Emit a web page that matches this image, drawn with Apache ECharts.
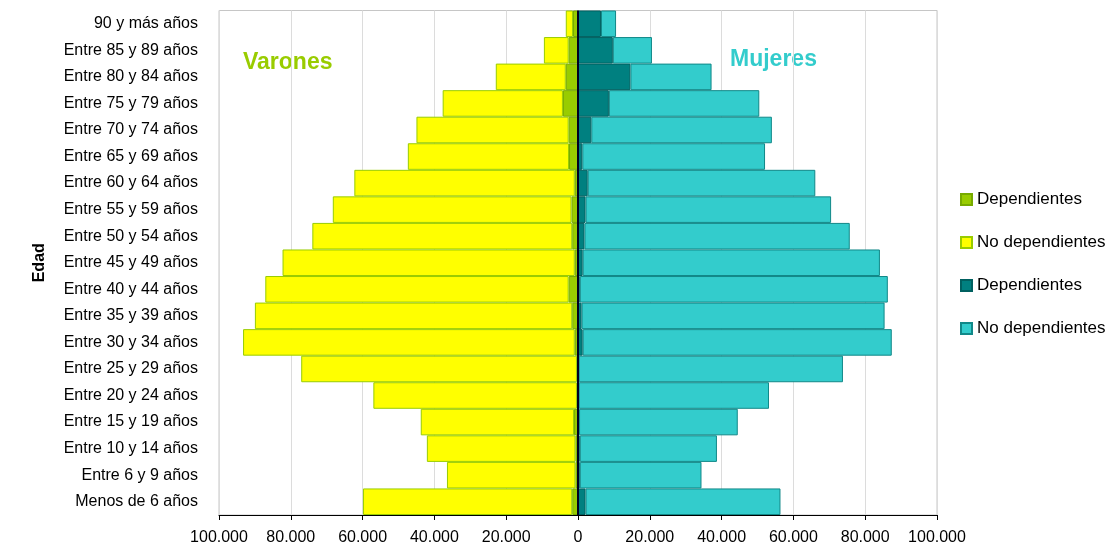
<!DOCTYPE html>
<html>
<head>
<meta charset="utf-8">
<script src="https://cdn.jsdelivr.net/npm/echarts@6/dist/echarts.min.js"></script>
<style>
html,body{margin:0;padding:0;background:#fff;}
#chart{width:1118px;height:546px;}
</style>
</head>
<body>
<div id="chart"></div>
<script>
// Age groups, top to bottom
const categories = ['90 y más años','Entre 85 y 89 años','Entre 80 y 84 años','Entre 75 y 79 años','Entre 70 y 74 años','Entre 65 y 69 años','Entre 60 y 64 años','Entre 55 y 59 años','Entre 50 y 54 años','Entre 45 y 49 años','Entre 40 y 44 años','Entre 35 y 39 años','Entre 30 y 34 años','Entre 25 y 29 años','Entre 20 y 24 años','Entre 15 y 19 años','Entre 10 y 14 años','Entre 6 y 9 años','Menos de 6 años'];

// Varones (men)
const menDependientes   = [1400, 2600, 3400, 4200, 2600, 2500, 900, 1800, 1600, 900, 2600, 1600, 900, 300, 300, 1100, 700, 700, 1600];
const menNoDependientes = [2000, 6900, 19500, 33500, 42400, 44900, 61400, 66500, 72400, 81400, 84500, 88400, 92400, 76800, 56700, 42700, 41400, 35800, 58300];

// Mujeres (women)
const womenDependientes   = [6400, 9700, 14600, 8600, 3700, 1200, 2700, 2100, 1800, 1300, 500, 1000, 1300, 200, 200, 300, 500, 500, 2100];
const womenNoDependientes = [4200, 10900, 22600, 41900, 50300, 50900, 63400, 68400, 73900, 82800, 85800, 84400, 86100, 73600, 53000, 44200, 38200, 33900, 54300];

const legendNames = {
  'Dependientes V': 'Dependientes',
  'No dependientes V': 'No dependientes',
  'Dependientes M': 'Dependientes',
  'No dependientes M': 'No dependientes'
};

function fmt(v){
  return Math.abs(v).toString().replace(/\B(?=(\d{3})+(?!\d))/g, '.');
}

const chart = echarts.init(document.getElementById('chart'));
const font = '"Liberation Sans", Arial, sans-serif';

chart.setOption({
  animation: false,
  textStyle: { fontFamily: font },
  grid: { left: 219, right: 181, top: 10.5, bottom: 31, show: true, borderColor: '#c6c6c6', borderWidth: 1 },
  legend: {
    orient: 'vertical',
    left: 955,
    top: 186,
    itemWidth: 11,
    itemHeight: 11,
    itemGap: 26,
    icon: 'rect',
    textStyle: { fontSize: 17, color: '#000', fontFamily: font },
    formatter: n => legendNames[n] || n,
    data: ['Dependientes V','No dependientes V','Dependientes M','No dependientes M']
  },
  xAxis: {
    type: 'value',
    min: -100000,
    max: 100000,
    interval: 20000,
    position: 'bottom',
    axisLine: { show: true, onZero: false, lineStyle: { color: '#000', width: 1 } },
    axisTick: { show: true, length: 5, lineStyle: { color: '#000' } },
    axisLabel: { formatter: fmt, fontSize: 16, color: '#000', margin: 15, fontFamily: font },
    splitLine: { show: true, lineStyle: { color: '#dcdcdc', width: 1 } }
  },
  yAxis: {
    type: 'category',
    data: categories,
    inverse: true,
    name: 'Edad',
    nameLocation: 'middle',
    nameGap: 171,
    nameRotate: 90,
    nameTextStyle: { fontSize: 16, fontWeight: 'bold', color: '#000', fontFamily: font },
    axisLine: { show: false },
    axisTick: { show: false },
    axisLabel: { fontSize: 16, color: '#000', margin: 21, fontFamily: font },
    splitLine: { show: false }
  },
  graphic: [
    { type: 'text', left: 243, top: 51, style: { text: 'Varones', fill: '#99cc00', font: 'bold 23px ' + font } },
    { type: 'text', left: 730, top: 48, style: { text: 'Mujeres', fill: '#33cccc', font: 'bold 23px ' + font } }
  ],
  series: [
    {
      name: 'Dependientes V', type: 'bar', stack: 'total', barCategoryGap: '0%',
      data: menDependientes.map(v => -v),
      itemStyle: { color: '#99cc00', borderColor: '#77aa00', borderWidth: 1 }
    },
    {
      name: 'No dependientes V', type: 'bar', stack: 'total', barCategoryGap: '0%',
      data: menNoDependientes.map(v => -v),
      itemStyle: { color: '#ffff00', borderColor: '#99cc00', borderWidth: 1 }
    },
    {
      name: 'Dependientes M', type: 'bar', stack: 'total', barCategoryGap: '0%',
      data: womenDependientes,
      itemStyle: { color: '#008080', borderColor: '#006060', borderWidth: 1 }
    },
    {
      name: 'No dependientes M', type: 'bar', stack: 'total', barCategoryGap: '0%',
      data: womenNoDependientes,
      itemStyle: { color: '#33cccc', borderColor: '#118888', borderWidth: 1 },
      markLine: {
        silent: true, symbol: 'none', label: { show: false },
        lineStyle: { color: '#000022', width: 2, type: 'solid' },
        data: [{ xAxis: 0 }]
      }
    }
  ]
});
</script>
</body>
</html>
